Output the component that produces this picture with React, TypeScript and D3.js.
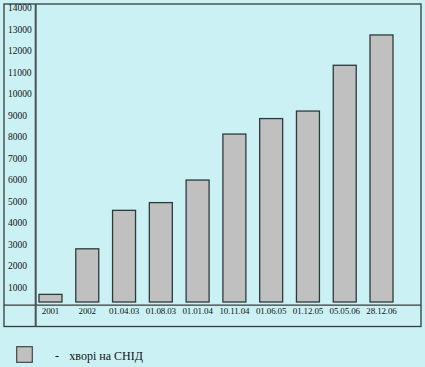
import React from "react";
import * as d3 from "d3";

const categories = [
  "2001",
  "2002",
  "01.04.03",
  "01.08.03",
  "01.01.04",
  "10.11.04",
  "01.06.05",
  "01.12.05",
  "05.05.06",
  "28.12.06",
];
const patients = [680, 2800, 4590, 4950, 6000, 8140, 8860, 9210, 11340, 12750];
const yTicks = [1000, 2000, 3000, 4000, 5000, 6000, 7000, 8000, 9000, 10000, 11000, 12000, 13000, 14000];
const legendLabel = "хворі на СНІД";

const W = 425;
const H = 367;
const BG = "#ccf1f4";
const LINE = "#333b3b";
const SERIF = "'Liberation Serif', 'Times New Roman', serif";

export default function App() {
  const frame = { x0: 4, y0: 4, x1: 421, y1: 326.5 };
  const axisX = 35.7;
  const rowY = 305.2;
  const barBase = 302;

  const y = d3.scaleLinear().domain([0, 14000]).range([309, 8.1]);
  const x = d3
    .scaleBand<string>()
    .domain(categories)
    .range([39, 393])
    .paddingInner(0.375)
    .paddingOuter(0);

  return (
    <svg
      width={W}
      height={H}
      style={{ position: "absolute", left: 0, top: 0, display: "block" }}
    >
      <rect x={0} y={0} width={W} height={H} fill={BG} />
      <rect
        x={frame.x0}
        y={frame.y0}
        width={frame.x1 - frame.x0}
        height={frame.y1 - frame.y0}
        fill="none"
        stroke={LINE}
        strokeWidth={1.3}
      />
      <line x1={frame.x0} x2={frame.x1} y1={rowY} y2={rowY} stroke={LINE} strokeWidth={1.2} />
      <line x1={axisX} x2={axisX} y1={frame.y0} y2={frame.y1} stroke="#4a5252" strokeWidth={2} />

      {yTicks.map((t) => (
        <text
          key={t}
          x={8}
          y={y(t)}
          dy="0.34em"
          fontFamily={SERIF}
          fontSize={9.5}
          fill="#111"
        >
          {t}
        </text>
      ))}

      {categories.map((c, i) => (
        <rect
          key={c}
          x={x(c)!}
          y={y(patients[i])}
          width={x.bandwidth()}
          height={barBase - y(patients[i])}
          fill="#c0c0c0"
          stroke="#2e3a3a"
          strokeWidth={1.3}
        />
      ))}

      {categories.map((c) => (
        <text
          key={c}
          x={x(c)! + x.bandwidth() / 2}
          y={313.6}
          textAnchor="middle"
          fontFamily={SERIF}
          fontSize={9}
          letterSpacing={-0.15}
          fill="#111"
        >
          {c}
        </text>
      ))}

      <rect x={16.7} y={346.7} width={15.6} height={15.6} fill="#c0c0c0" stroke="#444" strokeWidth={1.2} />
      <text x={55} y={359.5} fontFamily={SERIF} fontSize={12} fill="#111">
        -
      </text>
      <text x={69.3} y={359.5} fontFamily={SERIF} fontSize={12} fill="#111">
        {legendLabel}
      </text>
    </svg>
  );
}
